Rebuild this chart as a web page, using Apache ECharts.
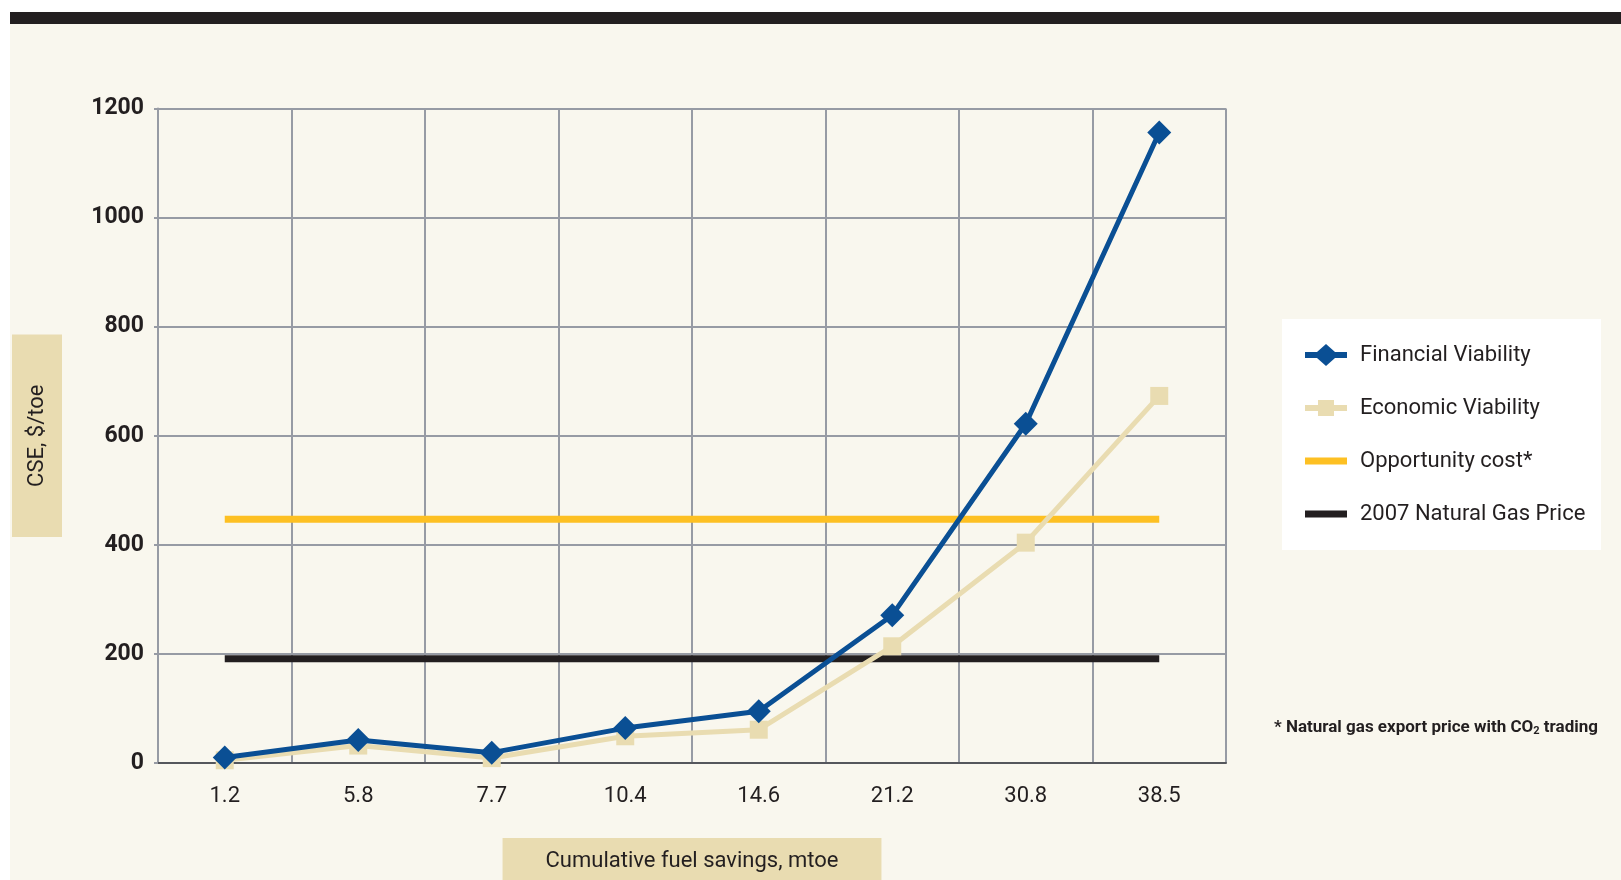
<!DOCTYPE html>
<html>
<head>
<meta charset="utf-8">
<script src="https://cdn.jsdelivr.net/npm/echarts@6/dist/echarts.min.js"></script>
<style>
  html, body { margin: 0; padding: 0; background: #ffffff; }
  #chart { width: 1621px; height: 880px; }
</style>
</head>
<body>
<div id="chart"></div>
<script>
// Cumulative fuel savings (mtoe) on the category axis
const savings = ['1.2', '5.8', '7.7', '10.4', '14.6', '21.2', '30.8', '38.5'];
// Cost of saved energy, $/toe
const financialViability = [10, 42, 19, 64, 95, 271, 622, 1156];
const economicViability = [5, 32, 9, 49, 61, 214, 404, 673];
const opportunityCost = [447, 447, 447, 447, 447, 447, 447, 447];
const gasPrice2007 = [191, 191, 191, 191, 191, 191, 191, 191];
const yTicks = { min: 0, max: 1200, interval: 200 };

const FONT = 'Roboto, "Liberation Sans", sans-serif';
const INK = '#231f20';
const CREAM = '#f9f7ee';
const TAN = '#e9dcb1';
const BLUE = '#0a4f94';
const YELLOW = '#fdc023';
const GRID = '#979ba4';

// legend glyphs: a thick stroke, optionally with the series marker on it
const ICON_DIAMOND = 'path://M0,8 L12,8 L21,0 L30,8 L42,8 L42,14 L30,14 L21,22 L12,14 L0,14 Z';
const ICON_SQUARE = 'path://M0,8 L13,8 L13,3 L29,3 L29,8 L42,8 L42,14 L29,14 L29,19 L13,19 L13,14 L0,14 Z';
const ICON_BAR = 'path://M0,0 L42,0 L42,7 L0,7 Z';

const chart = echarts.init(document.getElementById('chart'));

chart.setOption({
  backgroundColor: '#ffffff',
  animation: false,
  graphic: [
    { type: 'rect', z: -10, shape: { x: 10, y: 12, width: 1611, height: 868 }, style: { fill: CREAM } },
    { type: 'rect', z: 10, shape: { x: 10, y: 12, width: 1611, height: 12 }, style: { fill: INK } },
    { type: 'rect', z: 1, shape: { x: 1282, y: 319, width: 319, height: 231 }, style: { fill: '#ffffff' } },
    {
      type: 'text', z: 5, left: 1274, top: 719,
      style: {
        text: '* Natural gas export price with CO{sub|2} trading',
        fill: INK, font: 'bold 17px ' + FONT,
        rich: { sub: { fontSize: 11, fontFamily: FONT, fontWeight: 'bold', fill: INK, padding: [7, 0, 0, 0] } }
      }
    }
  ],
  grid: { left: 158, right: 395, top: 108.5, bottom: 117, containLabel: false, outerBoundsMode: 'none' },
  legend: {
    orient: 'vertical',
    left: 1300, top: 339,
    itemWidth: 42, itemHeight: 22, itemGap: 31,
    symbolKeepAspect: true,
    textStyle: { fontFamily: FONT, fontSize: 22, color: INK, padding: [0, 0, 0, 8] },
    data: [
      { name: 'Financial Viability', icon: ICON_DIAMOND },
      { name: 'Economic Viability', icon: ICON_SQUARE },
      { name: 'Opportunity cost*', icon: ICON_BAR },
      { name: '2007 Natural Gas Price', icon: ICON_BAR }
    ]
  },
  xAxis: {
    type: 'category',
    data: savings,
    boundaryGap: true,
    axisLine: { lineStyle: { color: '#55575c', width: 2 } },
    axisTick: { show: false },
    splitLine: { show: true, lineStyle: { color: GRID, width: 2 } },
    axisLabel: { fontFamily: FONT, fontSize: 22, color: INK, margin: 22 },
    name: 'Cumulative fuel savings, mtoe',
    nameLocation: 'middle',
    nameGap: 75,
    nameTextStyle: {
      fontFamily: FONT, fontSize: 22, color: INK,
      backgroundColor: TAN, padding: [12, 43, 22, 43], verticalAlign: 'top'
    }
  },
  yAxis: {
    type: 'value',
    min: yTicks.min, max: yTicks.max, interval: yTicks.interval,
    axisLine: { show: true, lineStyle: { color: GRID, width: 2 } },
    axisTick: { show: true, length: 4, lineStyle: { color: GRID, width: 2 } },
    splitLine: { show: true, lineStyle: { color: GRID, width: 2 } },
    axisLabel: {
      fontFamily: FONT, fontSize: 23, fontWeight: 'bold', color: INK, margin: 14,
      formatter: (v) => String(v)
    },
    name: 'CSE, $/toe',
    nameLocation: 'middle',
    nameRotate: 90,
    nameGap: 96,
    nameTextStyle: {
      fontFamily: FONT, fontSize: 22, color: INK,
      backgroundColor: TAN, padding: [14, 50, 14, 50]
    }
  },
  series: [
    {
      name: '2007 Natural Gas Price', type: 'line', data: gasPrice2007,
      symbol: 'none', lineStyle: { color: INK, width: 7 }, itemStyle: { color: INK }, z: 2
    },
    {
      name: 'Opportunity cost*', type: 'line', data: opportunityCost,
      symbol: 'none', lineStyle: { color: YELLOW, width: 7 }, itemStyle: { color: YELLOW }, z: 2
    },
    {
      name: 'Economic Viability', type: 'line', data: economicViability,
      symbol: 'rect', symbolSize: 18, lineStyle: { color: TAN, width: 5 }, itemStyle: { color: TAN }, z: 3
    },
    {
      name: 'Financial Viability', type: 'line', data: financialViability,
      symbol: 'diamond', symbolSize: 24, lineStyle: { color: BLUE, width: 5 }, itemStyle: { color: BLUE }, z: 4
    }
  ]
});
</script>
</body>
</html>
